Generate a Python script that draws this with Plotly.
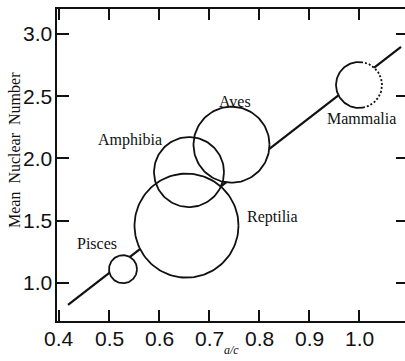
import numpy as np
import plotly.graph_objects as go

# Vertebrate classes: axial ratio a/c against mean nuclear number
classes = ["Pisces", "Amphibia", "Reptilia", "Aves", "Mammalia"]
ac_ratio = [0.528, 0.66, 0.655, 0.745, 1.0]
mean_nuclear = [1.11, 1.89, 1.46, 2.11, 2.59]
bubble_radius_px = [14, 35, 52, 38, 23]

# Fitted trend line end points
fit_x = [0.418, 1.084]
fit_y = [0.823, 2.895]

# Label anchor points (data coordinates)
label_x = [0.476, 0.542, 0.826, 0.752, 1.004]
label_y = [1.313, 2.149, 1.53, 2.454, 2.317]

x_ticks = [0.4, 0.5, 0.6, 0.7, 0.8, 0.9, 1.0]
x_ticktext = ["0.4", "0.5", "0.6", "0.7", "0.8", "0.9", "1.0"]
y_ticks = [1.0, 1.5, 2.0, 2.5, 3.0]
y_ticktext = ["1.0", "1.5", "2.0", "2.5", "3.0"]

x_title = "<i>a/c</i>"
y_title = "Mean  Nuclear  Number"

# Figure geometry
W, H = 405, 361
M_L, M_R, M_T, M_B = 57, 0, 9, 40
X_RANGE = [0.396, 1.092]
Y_RANGE = [0.694, 3.2]
plot_w = W - M_L - M_R
plot_h = H - M_T - M_B
px_per_x = plot_w / (X_RANGE[1] - X_RANGE[0])
px_per_y = plot_h / (Y_RANGE[1] - Y_RANGE[0])

INK = "#111"
SANS = "Liberation Sans"
SERIF = "Liberation Serif"


def ring(cx, cy, r_px, a0, a1, n=120):
    t = np.linspace(np.radians(a0), np.radians(a1), n)
    return cx + r_px * np.cos(t) / px_per_x, cy + r_px * np.sin(t) / px_per_y


fig = go.Figure()

# trend line (covered inside the circles by white discs)
fig.add_trace(go.Scatter(x=fit_x, y=fit_y, mode="lines",
                         line=dict(color=INK, width=2.2),
                         showlegend=False, hoverinfo="skip"))

# white discs
for cx, cy, r in zip(ac_ratio, mean_nuclear, bubble_radius_px):
    xs, ys = ring(cx, cy, r, 0, 360)
    fig.add_trace(go.Scatter(x=xs, y=ys, mode="lines", fill="toself",
                             fillcolor="white", line=dict(width=0, color="white"),
                             showlegend=False, hoverinfo="skip"))

# circle outlines (Mammalia: right half dashed)
for name, cx, cy, r in zip(classes, ac_ratio, mean_nuclear, bubble_radius_px):
    if name == "Mammalia":
        xs, ys = ring(cx, cy, r, 80, 280)
        fig.add_trace(go.Scatter(x=xs, y=ys, mode="lines",
                                 line=dict(color=INK, width=1.8),
                                 showlegend=False, hoverinfo="skip"))
        xs, ys = ring(cx, cy, r, -80, 80)
        fig.add_trace(go.Scatter(x=xs, y=ys, mode="lines",
                                 line=dict(color=INK, width=1.8, dash="2px,2px"),
                                 showlegend=False, hoverinfo="skip"))
    else:
        xs, ys = ring(cx, cy, r, 0, 360)
        fig.add_trace(go.Scatter(x=xs, y=ys, mode="lines",
                                 line=dict(color=INK, width=1.8),
                                 showlegend=False, hoverinfo="skip"))

# carrier for the right-hand tick marks
fig.add_trace(go.Scatter(x=[None], y=[None], yaxis="y2", showlegend=False))

# class names
for name, lx, ly in zip(classes, label_x, label_y):
    fig.add_annotation(x=lx, y=ly, xref="x", yref="y", text=name, showarrow=False,
                       font=dict(family=SERIF, size=16, color=INK))

# tick labels
for v, t in zip(x_ticks, x_ticktext):
    fig.add_annotation(x=v, y=0, xref="x", yref="paper", text=t, showarrow=False,
                       xanchor="center", yanchor="top", yshift=-4,
                       font=dict(family=SANS, size=21, color=INK))
for v, t in zip(y_ticks, y_ticktext):
    fig.add_annotation(x=0, y=v, xref="paper", yref="y", text=t, showarrow=False,
                       xanchor="right", yanchor="middle", xshift=-3,
                       font=dict(family=SANS, size=21, color=INK))

# axis titles
fig.add_annotation(x=0.5, y=0, xref="paper", yref="paper", text=x_title,
                   showarrow=False, xanchor="center", yanchor="middle", yshift=-29,
                   font=dict(family=SERIF, size=12, color=INK))
fig.add_annotation(x=0, y=0.548, xref="paper", yref="paper", text=y_title,
                   showarrow=False, textangle=-90, xanchor="center", yanchor="middle",
                   xshift=-43, font=dict(family=SERIF, size=16, color=INK))

fig.update_layout(
    width=W, height=H,
    margin=dict(l=M_L, r=M_R, t=M_T, b=M_B, pad=0),
    paper_bgcolor="white", plot_bgcolor="white",
    showlegend=False,
    xaxis=dict(
        range=X_RANGE, showgrid=False, zeroline=False, automargin=False,
        showline=True, linecolor=INK, linewidth=2, mirror="ticks",
        ticks="inside", ticklen=11, tickwidth=1.5, tickcolor=INK,
        tickvals=x_ticks, showticklabels=False,
    ),
    yaxis=dict(
        range=Y_RANGE, showgrid=False, zeroline=False, automargin=False,
        showline=True, linecolor=INK, linewidth=2,
        ticks="inside", ticklen=12, tickwidth=1.5, tickcolor=INK,
        tickvals=y_ticks, showticklabels=False,
    ),
    yaxis2=dict(
        range=Y_RANGE, overlaying="y", side="right", anchor="x",
        showgrid=False, zeroline=False, showline=False, automargin=False,
        ticks="inside", ticklen=9, tickwidth=1.5, tickcolor=INK,
        tickvals=y_ticks, showticklabels=False,
    ),
)

fig.write_html("out.html")
